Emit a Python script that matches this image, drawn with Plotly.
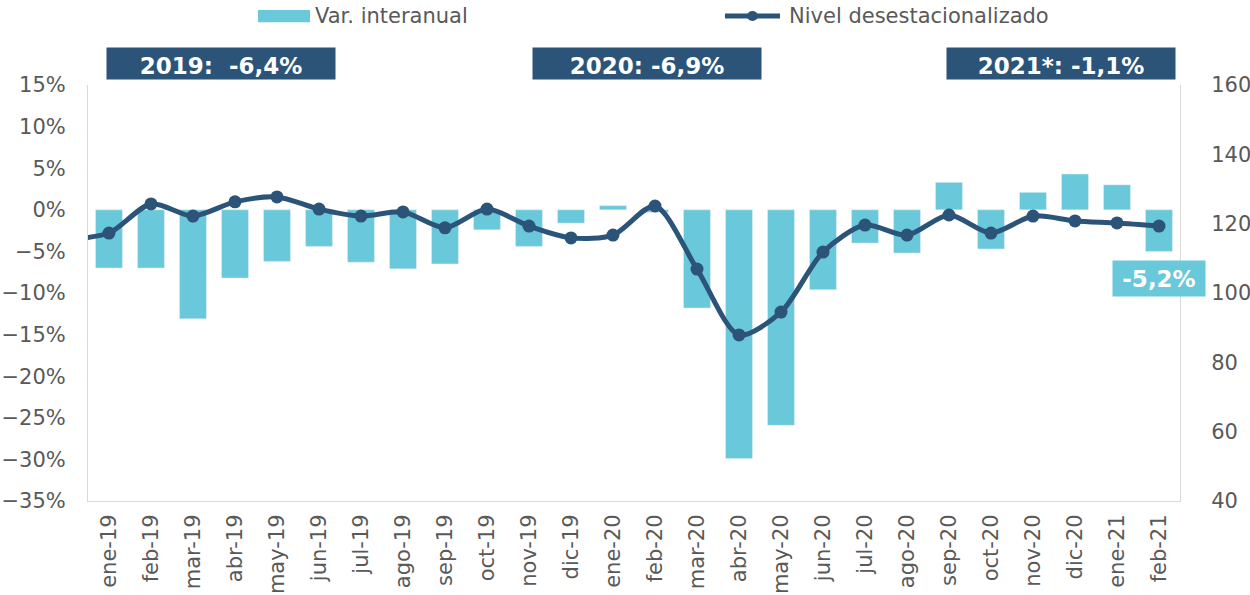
import plotly.graph_objects as go

months = ["ene-19", "feb-19", "mar-19", "abr-19", "may-19", "jun-19", "jul-19", "ago-19",
          "sep-19", "oct-19", "nov-19", "dic-19", "ene-20", "feb-20", "mar-20", "abr-20",
          "may-20", "jun-20", "jul-20", "ago-20", "sep-20", "oct-20", "nov-20", "dic-20",
          "ene-21", "feb-21"]
var_interanual = [-7.0, -7.0, -13.1, -8.2, -6.2, -4.4, -6.3, -7.1, -6.5, -2.4, -4.4, -1.6,
                  0.5, -0.3, -11.8, -29.9, -25.9, -9.6, -4.0, -5.2, 3.3, -4.7, 2.1, 4.3,
                  3.0, -5.0]
# seasonally adjusted level; the preceding month (dic-18) is only partly visible at the left edge
prev_month_level = 115.5
nivel = [117.3, 125.7, 122.2, 126.3, 127.7, 124.2, 122.2, 123.4, 118.8, 124.2, 119.3, 115.9,
         116.7, 125.1, 106.9, 87.9, 94.5, 111.8, 119.6, 116.7, 122.5, 117.3, 122.2, 120.8,
         120.2, 119.3]
series_names = ["Var. interanual", "Nivel desestacionalizado"]
banners = ["2019:  -6,4%", "2020: -6,9%", "2021*: -1,1%"]
last_label = "-5,2%"

BAR = "#69C8D9"
LINE = "#2C5479"
GREY = "#595959"
FONT = "DejaVu Sans"

idx = list(range(len(months)))

fig = go.Figure()
fig.add_trace(go.Bar(
    x=idx, y=var_interanual, name=series_names[0], marker_color=BAR,
    width=0.64, yaxis="y", showlegend=False))
fig.add_trace(go.Scatter(
    x=[-1] + idx, y=[prev_month_level] + nivel, name=series_names[1],
    mode="lines+markers", line=dict(color=LINE, width=5, shape="spline", smoothing=0.8),
    marker=dict(color=LINE, size=13), yaxis="y2", cliponaxis=True, showlegend=False))

# legend (drawn manually to match the wide swatches)
fig.add_shape(type="rect", xref="paper", yref="paper", x0=0.1557, x1=0.2033,
              y0=1.151, y1=1.180, fillcolor=BAR, line_width=0)
fig.add_annotation(xref="paper", yref="paper", x=0.2060, y=1.166, xanchor="left",
                   yanchor="middle", text=series_names[0], showarrow=False,
                   font=dict(family=FONT, size=21, color=GREY))
fig.add_shape(type="line", xref="paper", yref="paper", x0=0.5833, x1=0.6337,
              y0=1.166, y1=1.166, line=dict(color=LINE, width=5))
fig.add_shape(type="circle", xref="paper", yref="paper", x0=0.6035, x1=0.6135,
              y0=1.154, y1=1.178, fillcolor=LINE, line_width=0)
fig.add_annotation(xref="paper", yref="paper", x=0.6401, y=1.166, xanchor="left",
                   yanchor="middle", text=series_names[1], showarrow=False,
                   font=dict(family=FONT, size=21, color=GREY))

# year banners
bx = [0.122, 0.512, 0.891]
for t, x in zip(banners, bx):
    fig.add_annotation(
        xref="paper", yref="paper", x=x, y=1.052, xanchor="center", yanchor="middle",
        text="<b>" + t + "</b>",
        showarrow=False, bgcolor=LINE, width=228, height=31, borderpad=0,
        valign="bottom", font=dict(family=FONT, size=23, color="white"))

fig.add_annotation(
    xref="x", yref="y", x=idx[-1], y=-8.2, text="<b>" + last_label + "</b>",
    showarrow=False, bgcolor=BAR, width=92, height=35, borderpad=0,
    font=dict(family=FONT, size=23, color="white"))

fig.update_layout(
    width=1250, height=595,
    margin=dict(l=88, r=70, t=85, b=94),
    paper_bgcolor="white", plot_bgcolor="white",
    font=dict(family=FONT, size=21, color=GREY),
    showlegend=False,
    xaxis=dict(range=[-0.5, len(months) - 0.5], tickvals=idx, ticktext=months,
               tickangle=-90, showgrid=False, zeroline=False, automargin=False,
               showline=True, linecolor="#D9D9D9", linewidth=1, ticks="",
               ticklabelstandoff=4, tickfont=dict(size=21, color=GREY)),
    yaxis=dict(range=[-35, 15], dtick=5, ticksuffix="%", showgrid=False, zeroline=False,
               showline=True, linecolor="#D9D9D9", linewidth=1, ticks="", automargin=False,
               ticklabelstandoff=17, tickfont=dict(size=21, color=GREY)),
    yaxis2=dict(range=[40, 160], dtick=20, overlaying="y", side="right", showgrid=False,
                zeroline=False, showline=True, linecolor="#D9D9D9", linewidth=1,
                ticks="", automargin=False, ticklabelstandoff=26,
                tickfont=dict(size=21, color=GREY)),
)

fig.write_html("out.html", config={"displayModeBar": False},
               post_script="document.body.style.margin='0';")
